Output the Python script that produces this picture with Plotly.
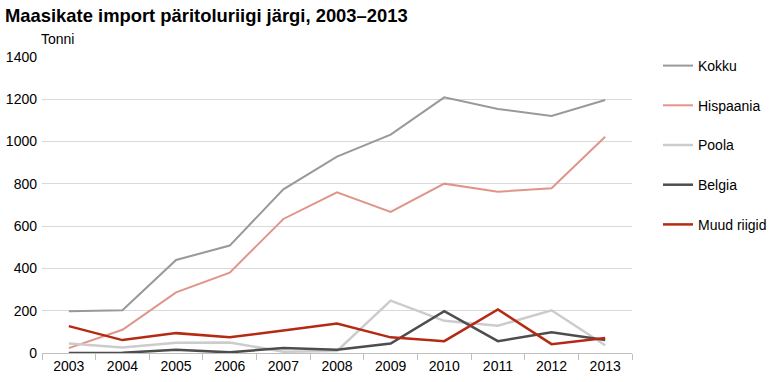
import plotly.graph_objects as go

years = ["2003", "2004", "2005", "2006", "2007", "2008", "2009", "2010", "2011", "2012", "2013"]
kokku = [198, 202, 440, 508, 774, 929, 1033, 1209, 1154, 1121, 1197]
hispaania = [23, 110, 287, 380, 634, 760, 667, 801, 763, 779, 1023]
poola = [45, 26, 48, 50, 6, 10, 248, 152, 129, 202, 37]
belgia = [0, 1, 15, 3, 24, 15, 45, 198, 56, 98, 61]
muud = [127, 61, 94, 74, 106, 139, 74, 56, 206, 42, 71]

series = [
    ("Kokku", kokku, "#999999", 2),
    ("Hispaania", hispaania, "#e0958a", 2),
    ("Poola", poola, "#cccccc", 2.5),
    ("Belgia", belgia, "#4d4d4d", 2.5),
    ("Muud riigid", muud, "#b52a12", 2.5),
]

fig = go.Figure()
for name, vals, col, w in series:
    fig.add_trace(go.Scatter(x=years, y=vals, name=name, mode="lines",
                             line=dict(color=col, width=w), legendgroup=name))

font = "Liberation Sans, Arial, sans-serif"
fig.update_layout(
    width=772, height=382,
    margin=dict(l=42, r=140, t=57, b=29, autoexpand=False),
    paper_bgcolor="white", plot_bgcolor="white",
    font=dict(family=font, size=14, color="#000000"),
    title=dict(text="<b>Maasikate import päritoluriigi järgi, 2003–2013</b>",
               x=5/772, xanchor="left", xref="container",
               y=1 - 16/382, yanchor="middle", yref="container",
               font=dict(size=18.4, family=font, color="#000000")),
    showlegend=True,
    legend=dict(xref="container", yref="container", x=658/772, xanchor="left",
                y=1 - 50/382, yanchor="top",
                tracegroupgap=18.5, traceorder="grouped",
                font=dict(size=14, family=font), bgcolor="rgba(0,0,0,0)"),
    annotations=[dict(text="Tonni", xref="paper", yref="paper", x=0, y=1,
                      xanchor="left", yanchor="bottom", xshift=-3, yshift=8,
                      showarrow=False, font=dict(size=14, family=font))],
)
fig.update_xaxes(type="category", tickson="boundaries", ticks="outside", ticklen=6,
                 tickcolor="#bfbfbf", showline=True, linecolor="#bfbfbf", linewidth=1,
                 showgrid=False, range=[-0.5, 10.5], tickfont=dict(size=14))
fig.update_yaxes(range=[0, 1400], dtick=200, showgrid=True, gridcolor="#d9d9d9",
                 gridwidth=1, zeroline=False, showline=False, ticks="",
                 tickfont=dict(size=14), ticklabelstandoff=4)

fig.write_html("out.html", post_script="document.body.style.margin='0';",
               config={"displayModeBar": False})
